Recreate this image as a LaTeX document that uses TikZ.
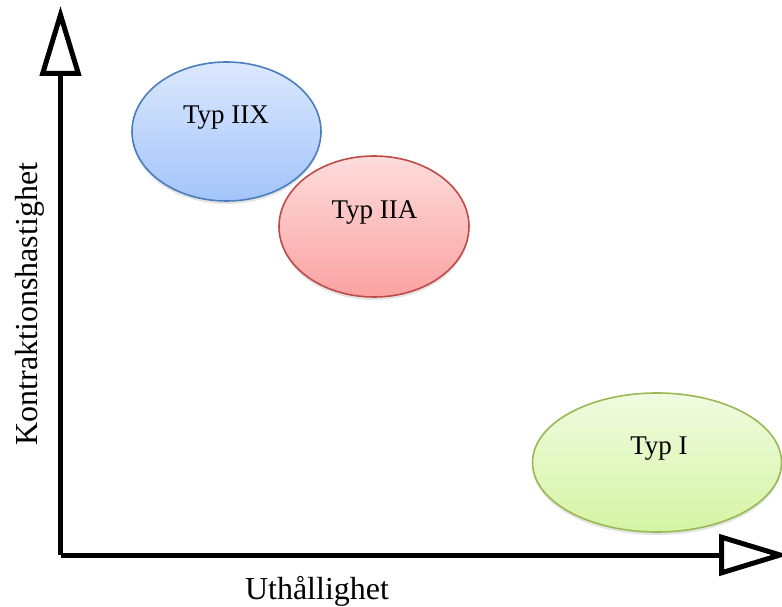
\documentclass[tikz,border=0pt]{standalone}
\usepackage{fontspec}
\setmainfont{Liberation Serif}
\usepackage{tikz}
\usetikzlibrary{shapes.geometric, arrows.meta, shadows}

\tikzset{
  fibre/.style={ellipse, line width=1.6pt, inner sep=0pt,
                drop shadow={opacity=0.22, shadow xshift=0pt, shadow yshift=-3pt}},
  fibretext/.style={font=\fontsize{27}{31}\selectfont, anchor=base},
  axislabel/.style={font=\fontsize{32}{36}\selectfont, anchor=base},
  axis/.style={line width=5pt, line join=miter,
               -{Triangle[open, length=70pt, width=41pt, line width=5pt]}}
}

\begin{document}
\begin{tikzpicture}[x=1pt, y=-1pt]

% ── Colour palette ──────────────────────────────────────────
\definecolor{xtop}{HTML}{DCE8FD}
\definecolor{xbot}{HTML}{A3C4FA}
\definecolor{xline}{HTML}{4A7EBB}
\definecolor{atop}{HTML}{FDDCDC}
\definecolor{abot}{HTML}{FBA2A2}
\definecolor{aline}{HTML}{BE4B48}
\definecolor{itop}{HTML}{F0FBE0}
\definecolor{ibot}{HTML}{D5F4A4}
\definecolor{iline}{HTML}{98B954}

\useasboundingbox (0,0) rectangle (782,607);

% ── Axes ────────────────────────────────────────────────────
\coordinate (origo) at (60.5,555);
\coordinate (ytop) at (60.5,6);
\coordinate (xend) at (789,555);
\draw[axis] (origo) -- (ytop);
\draw[axis] (origo) -- (xend);

\node[axislabel, rotate=90] (ylab) at (37,304) {Kontraktionshastighet};
\node[axislabel] (xlab) at (317,599) {Uthållighet};

% ── Fibre types ─────────────────────────────────────────────
\node[fibre, draw=xline, top color=xtop, bottom color=xbot,
      minimum width=189pt, minimum height=139pt] (iix) at (226.5,131.5) {};
\node[fibretext] (iixt) at (226,123.5) {Typ IIX};

\node[fibre, draw=aline, top color=atop, bottom color=abot,
      minimum width=190pt, minimum height=141pt] (iia) at (374,226.5) {};
\node[fibretext] (iiat) at (374.5,218) {Typ IIA};

\node[fibre, draw=iline, top color=itop, bottom color=ibot,
      minimum width=249pt, minimum height=139pt] (i) at (657,462.5) {};
\node[fibretext] (it) at (659,454) {Typ I};

\end{tikzpicture}
\end{document}
